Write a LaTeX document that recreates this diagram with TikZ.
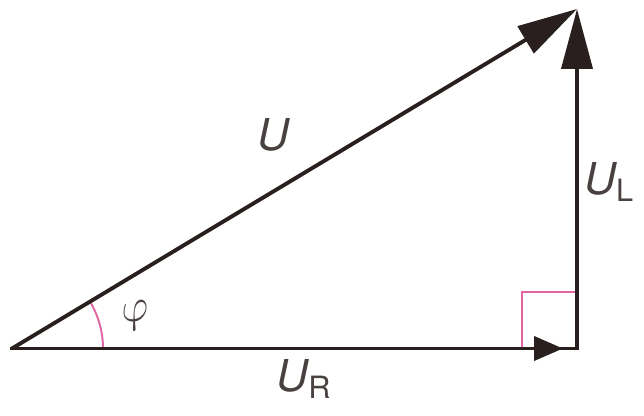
\documentclass[tikz,border=0pt]{standalone}
\usepackage{fontspec}
\setmainfont{TeX Gyre Heros}
\usepackage{tikz}
\usetikzlibrary{arrows.meta,calc}
\definecolor{ink}{rgb}{0.16,0.12,0.12}
\definecolor{pink}{rgb}{0.88,0.40,0.64}

\begin{document}
\begin{tikzpicture}[
    vecline/.style={draw=ink, line width=2.2pt},
    bigarrow/.style={vecline, -{Triangle[length=1.2cm, width=0.62cm]}},
    smallarrow/.style={vecline, -{Triangle[length=0.58cm, width=0.48cm]}},
    pinkmark/.style={draw=pink, line width=1.1pt},
    lbl/.style={font=\fontsize{25}{28}\selectfont\itshape, text=ink!85, inner sep=0pt}
]
    \useasboundingbox (0,0) rectangle (12.88,8.32);

    \coordinate (O) at (0.24,1.35);
    \coordinate (C) at (11.54,1.35);
    \coordinate (T) at (11.54,8.14);

    \draw[pinkmark] (10.44,1.35) |- (11.54,2.48);
    \draw[pinkmark] ($(O)+(1.82,0)$) arc[start angle=0, end angle=31, radius=1.82cm];

    \draw[bigarrow] (O) -- (T);
    \draw[vecline, line cap=rect] (O) -- (C);
    \draw[smallarrow, shorten >=0.28cm] (O) -- (C);
    \draw[bigarrow] (C) -- (T);

    \node[lbl] (u) at (5.46,5.62) {U};
    \node[lbl, anchor=west] (ul) at (11.68,4.68) {U\textsubscript{\upshape L}};
    \node[lbl] (ur) at (6.08,0.74) {U\textsubscript{\upshape R}};
    \node[lbl, rotate=15] (phi) at (2.74,2.0) {$\varphi$};
\end{tikzpicture}
\end{document}
